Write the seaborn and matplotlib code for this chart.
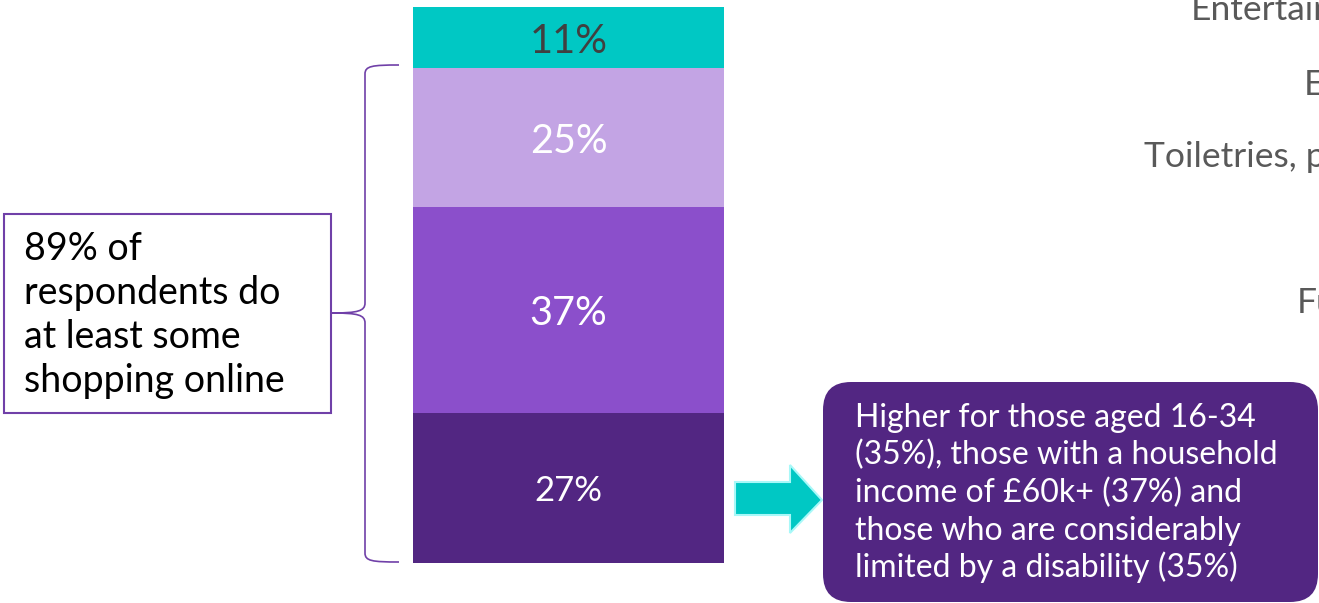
import numpy as np
import pandas as pd
import matplotlib
matplotlib.use("Agg")
import matplotlib.pyplot as plt
from matplotlib.patches import Rectangle, FancyBboxPatch, Polygon, PathPatch
from matplotlib.path import Path
import seaborn as sns

# Share of online shopping, stacked from bottom segment to top segment
segments = ["All or nearly all online", "Most online", "Some online", "None online"]
shares = [27, 37, 25, 11]
share_labels = ["27%", "37%", "25%", "11%"]
segment_colours = ["#522682", "#8B4FCB", "#C3A4E4", "#00C8C4"]
label_colours = ["white", "white", "white", "#404040"]
label_sizes = [25, 28.5, 28.5, 28.5]

callout_lines = ["89% of", "respondents do", "at least some", "shopping online"]
note_lines = [
    "Higher for those aged 16-34",
    "(35%), those with a household",
    "income of £60k+ (37%) and",
    "those who are considerably",
    "limited by a disability (35%)",
]
side_labels = ["Entertainment", "Electronics", "Toiletries, personal care", "Furniture"]

PURPLE_LINE = "#7040A8"
DARK_PURPLE = "#522682"
TEAL = "#00C8C4"

sns.set_theme(style="white")
plt.rcParams["font.family"] = ["Lato", "DejaVu Sans"]

W, H = 1319, 603
fig = plt.figure(figsize=(W / 100, H / 100), dpi=100)
fig.patch.set_facecolor("white")

# Stacked bar drawn as overlaid cumulative bars
ax = fig.add_axes([413 / W, (H - 563) / H, 311 / W, 556 / H])
df = pd.DataFrame({"group": ["Respondents"] * len(shares), "segment": segments, "share": shares})
df["cumulative"] = df["share"].cumsum()
for i in reversed(range(len(df))):
    sns.barplot(data=df.iloc[[i]], x="group", y="cumulative", color=segment_colours[i],
                saturation=1, width=1, linewidth=0, ax=ax)
for i, row in df.iterrows():
    ax.text(0, row["cumulative"] - row["share"] / 2, share_labels[i], ha="center",
            va="center_baseline", color=label_colours[i], fontsize=label_sizes[i])
ax.set_xlim(-0.5, 0.5)
ax.set_ylim(0, 100)
ax.axis("off")

# Annotation layer in pixel coordinates
ov = fig.add_axes([0, 0, 1, 1])
ov.set_xlim(0, W)
ov.set_ylim(H, 0)
ov.axis("off")
ov.patch.set_alpha(0)

# Callout box on the left
ov.add_patch(Rectangle((4, 214), 327, 199, fill=False, edgecolor=PURPLE_LINE, linewidth=1.5))
for k, line in enumerate(callout_lines):
    ov.text(24, 260 + 44 * k, line, fontsize=27, color="black", va="baseline", ha="left")

# Curly brace spanning the online share
verts = [
    (399, 65), (372, 65), (365, 66), (365, 74),
    (365, 303),
    (365, 311), (358, 313), (332, 313),
    (358, 313), (365, 315), (365, 323),
    (365, 553),
    (365, 561), (372, 562), (399, 562),
]
codes = [Path.MOVETO, Path.CURVE4, Path.CURVE4, Path.CURVE4,
         Path.LINETO,
         Path.CURVE4, Path.CURVE4, Path.CURVE4,
         Path.CURVE4, Path.CURVE4, Path.CURVE4,
         Path.LINETO,
         Path.CURVE4, Path.CURVE4, Path.CURVE4]
ov.add_patch(PathPatch(Path(verts, codes), fill=False, edgecolor=PURPLE_LINE, linewidth=1.2))

# Arrow pointing to the note
arrow = [(735, 482), (790, 482), (790, 465), (822, 500), (790, 533), (790, 515), (735, 515)]
ov.add_patch(Polygon(arrow, closed=True, facecolor=TEAL, edgecolor="#A8F8F8", linewidth=1.5))

# Rounded note box
ov.add_patch(FancyBboxPatch((823 + 28, 382 + 28), 1318 - 823 - 56, 602 - 382 - 56,
                            boxstyle="round,pad=28", facecolor=DARK_PURPLE, edgecolor="none"))
for k, line in enumerate(note_lines):
    ov.text(855, 427 + 37.5 * k, line, fontsize=23, color="white", va="baseline", ha="left")

# Category labels running off the right edge
side_pos = [(1191, 20), (1304, 95), (1144, 167), (1297, 313)]
for (x, y), txt in zip(side_pos, side_labels):
    ov.text(x, y, txt, fontsize=25.5, color="#595959", va="baseline", ha="left")

fig.savefig("out.png", dpi=100, facecolor="white")
